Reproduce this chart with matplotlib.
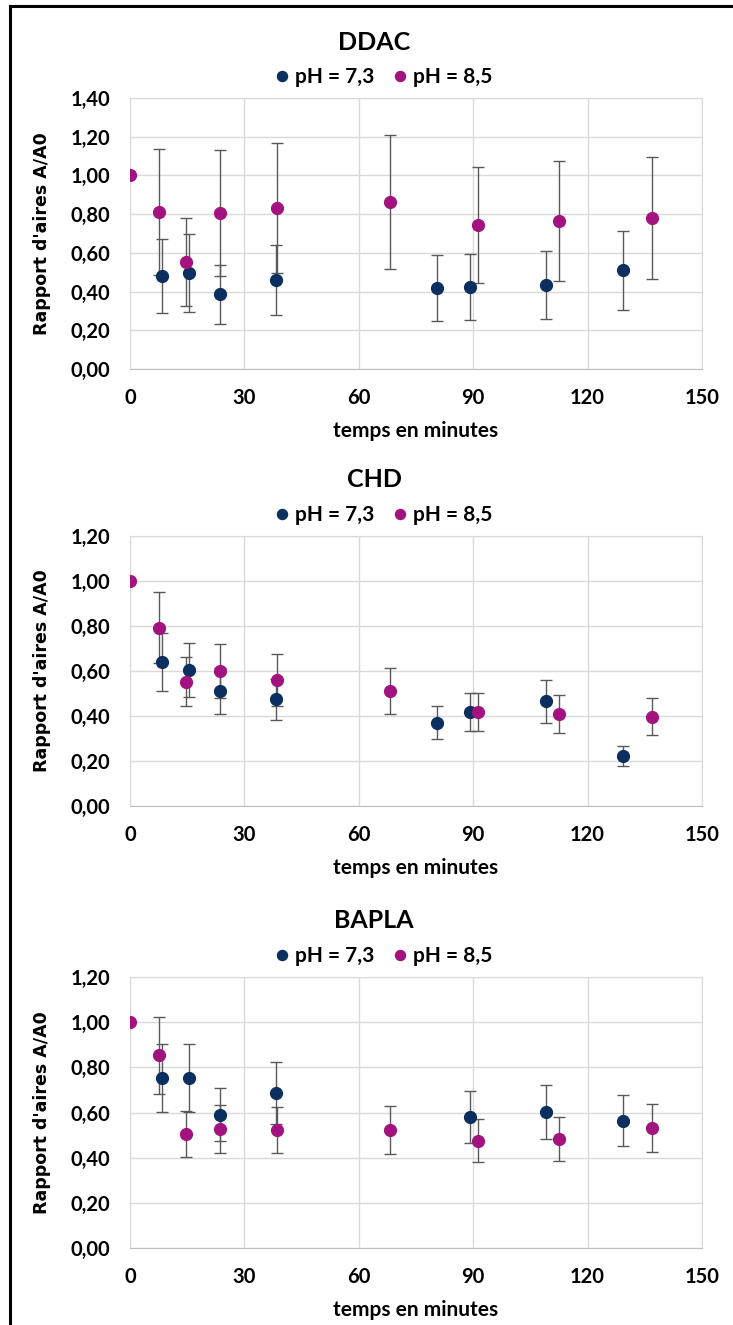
import matplotlib
matplotlib.use("Agg")
import matplotlib.pyplot as plt
from matplotlib.lines import Line2D
from matplotlib.ticker import FuncFormatter

# sampling times (minutes)
t_73 = [8.4, 15.4, 23.5, 38.4, 80.5, 89.1, 109.0, 129.3]
t_85 = [0.0, 7.6, 14.8, 23.5, 38.5, 68.2, 91.2, 112.6, 136.8]
t_73_bapla = [8.4, 15.4, 23.5, 38.4, 89.1, 109.0, 129.3]

# DDAC
ddac_73 = [0.48, 0.495, 0.385, 0.46, 0.42, 0.425, 0.435, 0.51]
ddac_73_err = [0.19, 0.20, 0.15, 0.18, 0.17, 0.17, 0.175, 0.205]
ddac_85 = [1.00, 0.81, 0.553, 0.806, 0.83, 0.864, 0.745, 0.766, 0.78]
ddac_85_err = [0, 0.325, 0.225, 0.325, 0.335, 0.345, 0.30, 0.31, 0.315]

# CHD
chd_73 = [0.639, 0.604, 0.51, 0.474, 0.37, 0.418, 0.465, 0.222]
chd_73_err = [0.128, 0.12, 0.103, 0.092, 0.074, 0.083, 0.094, 0.046]
chd_85 = [1.00, 0.793, 0.553, 0.60, 0.56, 0.51, 0.418, 0.409, 0.397]
chd_85_err = [0, 0.158, 0.11, 0.12, 0.117, 0.102, 0.083, 0.083, 0.081]

# BAPLA
bapla_73 = [0.754, 0.754, 0.59, 0.686, 0.579, 0.602, 0.564]
bapla_73_err = [0.15, 0.15, 0.118, 0.137, 0.116, 0.121, 0.113]
bapla_85 = [1.00, 0.854, 0.505, 0.526, 0.523, 0.523, 0.476, 0.483, 0.53]
bapla_85_err = [0, 0.17, 0.10, 0.106, 0.103, 0.105, 0.095, 0.097, 0.106]

x_ticks = [0, 30, 60, 90, 120, 150]
labels = ["pH = 7,3", "pH = 8,5"]

BLUE = "#0B2F5E"
PINK = "#A3137F"
ERR = "#595959"
GRID = "#D9D9D9"
NARROW = ["Liberation Sans Narrow", "Lato", "DejaVu Sans"]

panels = [
    ("DDAC", 1.40, t_73, ddac_73, ddac_73_err, ddac_85, ddac_85_err, 98, 369),
    ("CHD", 1.20, t_73, chd_73, chd_73_err, chd_85, chd_85_err, 536, 806),
    ("BAPLA", 1.20, t_73_bapla, bapla_73, bapla_73_err, bapla_85, bapla_85_err, 977, 1248),
]

W, H = 733, 1325
fig = plt.figure(figsize=(W / 100, H / 100), dpi=100)

# frame lines (left and top)
fig.add_artist(Line2D([10 / W, 10 / W], [0, 1 - 6 / H], color="black", lw=2.2))
fig.add_artist(Line2D([10 / W, 1], [1 - 6 / H, 1 - 6 / H], color="black", lw=2.2))

for name, ymax, tb, yb, eb, yp, ep, top, bot in panels:
    ax = fig.add_axes([130 / W, 1 - bot / H, 572 / W, (bot - top) / H])
    ax.errorbar(tb, yb, yerr=eb, fmt="none", ecolor=ERR, elinewidth=1,
                capsize=4, capthick=1, zorder=2)
    ax.errorbar(t_85, yp, yerr=ep, fmt="none", ecolor=ERR, elinewidth=1,
                capsize=4, capthick=1, zorder=2)
    ax.plot(tb, yb, "o", color=BLUE, ms=8.5, zorder=3, label=labels[0])
    ax.plot(t_85, yp, "o", color=PINK, ms=8.5, zorder=3, label=labels[1])

    ax.set_xlim(0, 150)
    ax.set_ylim(0, ymax)
    ax.set_xticks(x_ticks)
    ax.set_yticks([i * 0.2 for i in range(int(round(ymax / 0.2)) + 1)])
    ax.yaxis.set_major_formatter(FuncFormatter(lambda v, p: f"{v:.2f}".replace(".", ",")))
    ax.grid(True, color=GRID, lw=1)
    ax.set_axisbelow(True)
    for s in ax.spines.values():
        s.set_color(GRID)
    ax.spines["bottom"].set_color("#BFBFBF")
    ax.tick_params(length=0, pad=14, labelsize=14.5)
    for lab in ax.get_xticklabels() + ax.get_yticklabels():
        lab.set_family(NARROW)
        lab.set_fontweight("bold")
    ax.tick_params(axis="x", pad=14)

    ax.set_xlabel("temps en minutes", family=NARROW, fontweight="bold",
                  fontsize=15, labelpad=9)
    ax.set_ylabel("Rapport d'aires A/A0", fontweight="bold", fontsize=12.5,
                  labelpad=12)
    ax.yaxis.set_label_coords(-0.138, 0.5)

    fig.text(374 / W, 1 - (top - 56) / H, name, ha="center", va="center",
             family=NARROW, fontweight="bold", fontsize=18)
    leg = ax.legend(loc="center", bbox_to_anchor=(382 / W, 1 - (top - 21) / H),
                    bbox_transform=fig.transFigure, ncol=2, frameon=False,
                    handletextpad=0.1, columnspacing=0.75, handlelength=1.0,
                    markerscale=0.85,
                    prop={"family": NARROW, "weight": "bold", "size": 15})

fig.savefig("out.png", dpi=100)
